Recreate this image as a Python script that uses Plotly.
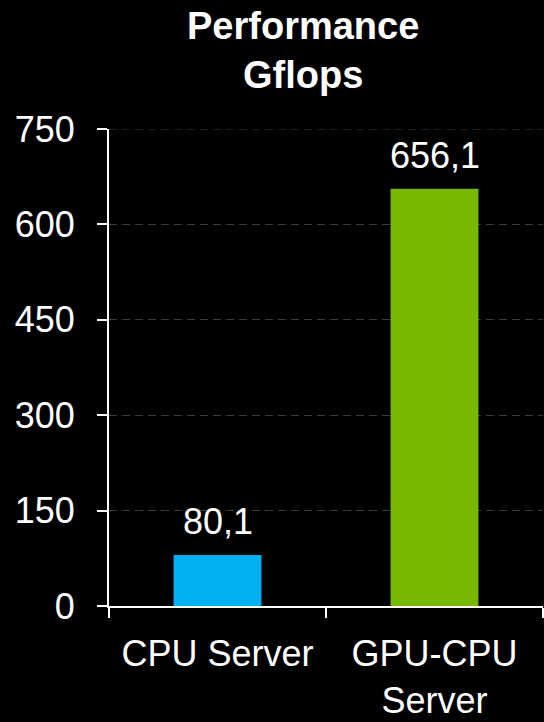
import plotly.graph_objects as go

categories = ["CPU Server", "GPU-CPU<br>Server"]
values = [80.1, 656.1]
colors = ["#00B0F0", "#76B900"]
labels = ["80,1", "656,1"]
y_ticks = [0, 150, 300, 450, 600, 750]
title_lines = ["Performance", "Gflops"]

FONT = "Liberation Sans, Arial, sans-serif"

fig = go.Figure()
fig.add_trace(go.Bar(x=categories, y=values, marker=dict(color=colors, line=dict(width=0)),
                     width=0.405, showlegend=False, hoverinfo="skip"))

for c, v, t in zip(categories, values, labels):
    fig.add_annotation(x=c, y=v, text=t, showarrow=False, yanchor="bottom", yshift=11,
                       font=dict(family=FONT, size=36, color="white"))

fig.add_annotation(text="<b>" + "<br>".join(title_lines) + "</b>", x=0.447, xref="paper",
                   xanchor="center", y=1, yref="paper", yanchor="bottom", yshift=31,
                   showarrow=False, font=dict(family=FONT, size=38, color="white"))

fig.update_layout(
    width=544, height=722,
    paper_bgcolor="black", plot_bgcolor="black",
    margin=dict(l=109, r=1, t=129, b=116, autoexpand=False),
    font=dict(family=FONT, size=36, color="white"),
)
fig.update_yaxes(range=[0, 750], tickvals=y_ticks, showgrid=True, gridcolor="#3c3c3c",
                 griddash="8px,5px", gridwidth=1, showline=True, linecolor="white", linewidth=2,
                 ticks="outside", ticklen=10, tickcolor="white", tickwidth=2,
                 ticklabelstandoff=15, zeroline=False, automargin=False,
                 tickfont=dict(family=FONT, size=36, color="white"))
fig.update_xaxes(showline=True, linecolor="white", linewidth=2, ticks="outside", ticklen=10,
                 tickcolor="white", tickwidth=2, tickson="boundaries", showgrid=False,
                 ticklabelstandoff=15, automargin=False,
                 tickfont=dict(family=FONT, size=36, color="white"))
fig.add_shape(type="line", xref="paper", yref="y", x0=0, x1=1, y0=y_ticks[-1], y1=y_ticks[-1],
              line=dict(color="#3c3c3c", width=1, dash="8px,5px"), layer="below")

fig.write_html("out.html", config={"displayModeBar": False},
               post_script="document.body.style.margin='0';")
